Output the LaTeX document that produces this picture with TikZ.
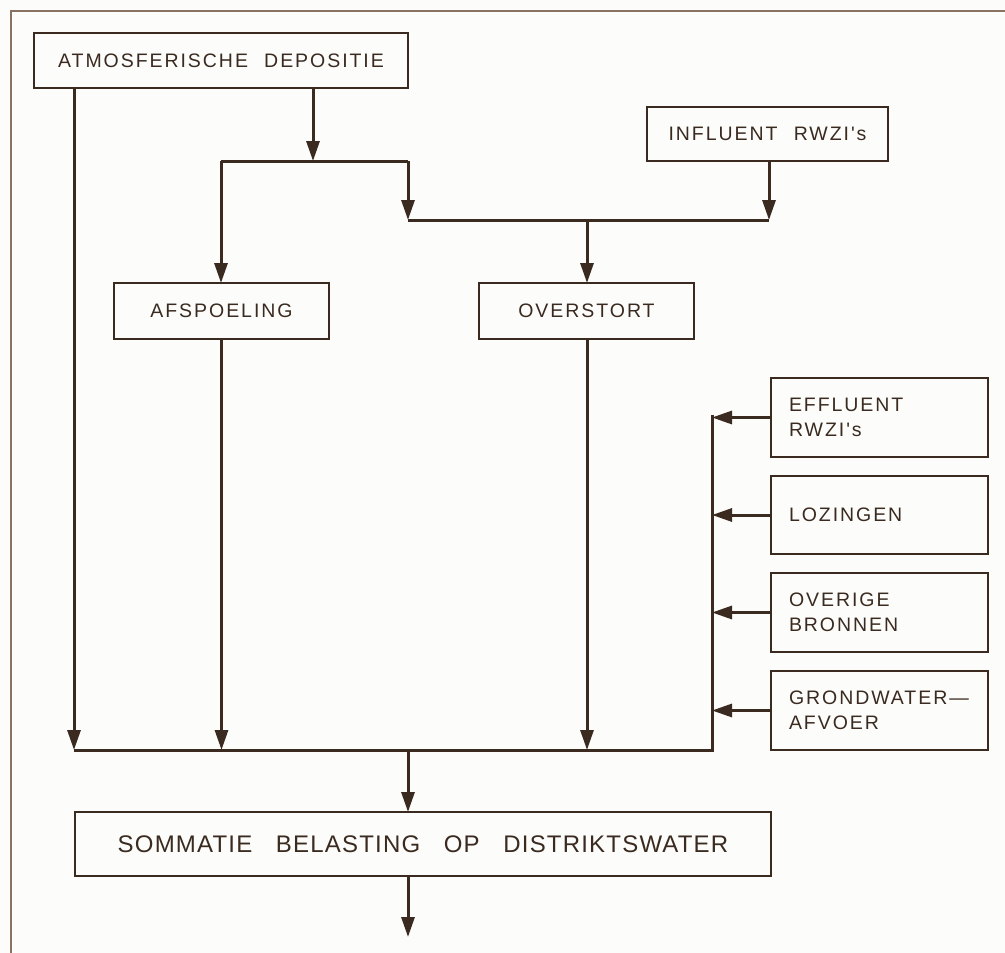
\documentclass[tikz,border=0pt]{standalone}
\usepackage{fontspec}
\setmainfont{Liberation Sans}
\usetikzlibrary{arrows.meta}
\definecolor{ink}{HTML}{3A2A20}
\definecolor{frameink}{HTML}{8A7262}
\definecolor{paper}{HTML}{FCFCFA}
\newfontfamily\letterfont[LetterSpace=10,WordSpace=2.2]{Liberation Sans}
\newfontfamily\bigletterfont[LetterSpace=5,WordSpace=3]{Liberation Sans}
\tikzset{
  box/.style={draw=ink, line width=1.8pt, rectangle, outer sep=0pt,
    inner sep=0pt, text=ink, font=\letterfont\fontsize{19.5}{25}\selectfont},
  sidebox/.style={box, minimum width=217pt, text width=181pt, align=left},
  link/.style={draw=ink, line width=3pt},
  arr/.style={link, -{Triangle[length=20pt,width=13pt]}},
}
\begin{document}
\begin{tikzpicture}[x=1pt,y=-1pt]
  \useasboundingbox (0,0) rectangle (1005,953);
  \fill[paper] (0,0) rectangle (1005,953);
  % frame edges
  \draw[frameink, line width=1.6pt] (11,953) -- (11,11) -- (1005,11);

  % source and intermediate boxes
  \node[box, minimum width=374pt, minimum height=55pt] (atm) at (221,60.5) {ATMOSFERISCHE DEPOSITIE};
  \node[box, minimum width=241pt, minimum height=54pt] (infl) at (767.5,134) {INFLUENT RWZI's};
  \node[box, minimum width=215pt, minimum height=56pt] (afsp) at (221.5,311) {AFSPOELING};
  \node[box, minimum width=215pt, minimum height=56pt] (over) at (586.5,311) {OVERSTORT};

  % sources on the right
  \node[sidebox, minimum height=79pt] (eff) at (879.5,417.5) {EFFLUENT\\RWZI's};
  \node[sidebox, minimum height=78pt] (loz) at (879.5,515) {LOZINGEN};
  \node[sidebox, minimum height=79pt] (ovr) at (879.5,612.5) {OVERIGE\\BRONNEN};
  \node[sidebox, minimum height=79pt] (grw) at (879.5,710.5) {GRONDWATER—\\AFVOER};

  % total load
  \node[box, line width=2.6pt, minimum width=696pt, minimum height=64pt,
    font=\bigletterfont\fontsize{24}{28}\selectfont] (som) at (423,844) {SOMMATIE BELASTING OP DISTRIKTSWATER};

  % junction points
  \coordinate (splitA) at (313,161);
  \coordinate (splitL) at (221,161);
  \coordinate (splitR) at (408,161);
  \coordinate (joinL) at (408,220);
  \coordinate (joinR) at (769,220);
  \coordinate (joinM) at (587,220);
  \coordinate (busL) at (74,750);
  \coordinate (busM) at (408,750);
  \coordinate (busR) at (712,750);
  \coordinate (busT) at (712,415);
  \coordinate (out) at (408,937);

  % deposition branches
  \draw[arr] (atm.south -| splitA) -- (splitA);
  \draw[link] (splitL) -- (splitR);
  \draw[arr] (splitL) -- (afsp.north -| splitL);
  \draw[arr] (splitR) -- (joinL);
  \draw[arr] (infl.south -| joinR) -- (joinR);
  \draw[link] (joinL) -- (joinR);
  \draw[arr] (joinM) -- (over.north -| joinM);

  % flows to the collecting line
  \draw[arr] (atm.south -| busL) -- (busL);
  \draw[arr] (afsp.south) -- (afsp.south |- busL);
  \draw[arr] (over.south -| joinM) -- (joinM |- busL);
  \draw[link] (busL) -- (busR) -- (busT);
  \draw[arr] (eff.west) -- (eff.west -| busT);
  \draw[arr] (loz.west) -- (loz.west -| busT);
  \draw[arr] (ovr.west) -- (ovr.west -| busT);
  \draw[arr] (grw.west) -- (grw.west -| busT);

  % sum and outflow
  \draw[arr] (busM) -- (som.north -| busM);
  \draw[arr] (som.south -| out) -- (out);
\end{tikzpicture}
\end{document}
